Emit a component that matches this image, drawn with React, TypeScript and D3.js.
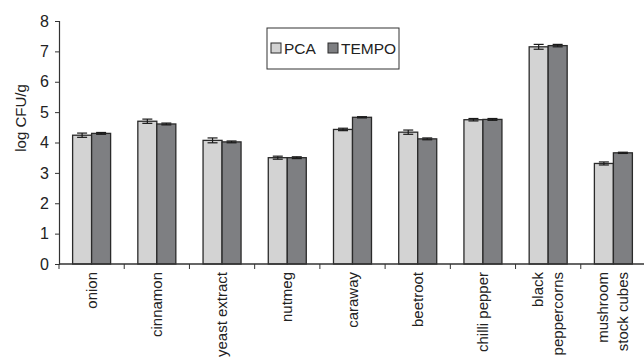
import React, { useEffect, useRef } from 'react';
import * as d3 from 'd3';

const categories = ['onion', 'cinnamon', 'yeast extract', 'nutmeg', 'caraway', 'beetroot', 'chilli pepper', 'black|peppercorns', 'mushroom|stock cubes'];
const seriesNames = ['PCA', 'TEMPO'];
const pcaValues = [4.24, 4.7, 4.07, 3.5, 4.43, 4.34, 4.75, 7.15, 3.31];
const tempoValues = [4.3, 4.61, 4.02, 3.5, 4.83, 4.12, 4.76, 7.19, 3.66];
const pcaErrors = [0.07, 0.07, 0.08, 0.05, 0.04, 0.07, 0.04, 0.08, 0.05];
const tempoErrors = [0.03, 0.03, 0.03, 0.03, 0.02, 0.03, 0.03, 0.04, 0.02];
const yTicks = [0, 1, 2, 3, 4, 5, 6, 7, 8];

const colors = ['#d3d3d3', '#7e7f82'];
const FONT = '"Liberation Sans", Arial, sans-serif';

const App = () => {
    const ref = useRef<SVGSVGElement>(null);

    useEffect(() => {
        const svg = d3.select(ref.current);
        svg.selectAll('*').remove();

        const left = 59, right = 646, top = 21, bottom = 264;

        const x = d3.scaleBand().domain(categories).range([left, right]).paddingInner(0).paddingOuter(0);
        const xs = d3.scaleBand().domain(seriesNames).range([0, 38]);
        const y = d3.scaleLinear().domain([0, 8]).range([bottom, top]);

        const rows = categories.map((c, i) => ({
            c,
            vals: [
                { s: 'PCA', v: pcaValues[i], e: pcaErrors[i] },
                { s: 'TEMPO', v: tempoValues[i], e: tempoErrors[i] },
            ],
        }));

        const groups = svg.append('g').selectAll('g')
            .data(rows)
            .enter().append('g')
            .attr('transform', d => `translate(${x(d.c)! + x.bandwidth() / 2 - 19},0)`);

        groups.selectAll('rect')
            .data(d => d.vals)
            .enter().append('rect')
            .attr('x', d => xs(d.s)!)
            .attr('y', d => y(d.v))
            .attr('width', xs.bandwidth())
            .attr('height', d => y(0) - y(d.v))
            .attr('fill', (d, i) => colors[i])
            .attr('stroke', '#2a2a2a')
            .attr('stroke-width', 1.3);

        // error bars
        const eb = groups.selectAll('g.err')
            .data(d => d.vals)
            .enter().append('g')
            .attr('class', 'err')
            .attr('stroke', '#1a1a1a')
            .attr('stroke-width', 1.2);
        eb.append('line')
            .attr('x1', d => xs(d.s)! + xs.bandwidth() / 2)
            .attr('x2', d => xs(d.s)! + xs.bandwidth() / 2)
            .attr('y1', d => y(d.v + d.e))
            .attr('y2', d => y(d.v - d.e));
        eb.append('line')
            .attr('x1', d => xs(d.s)! + xs.bandwidth() / 2 - 5)
            .attr('x2', d => xs(d.s)! + xs.bandwidth() / 2 + 5)
            .attr('y1', d => y(d.v + d.e))
            .attr('y2', d => y(d.v + d.e));
        eb.append('line')
            .attr('x1', d => xs(d.s)! + xs.bandwidth() / 2 - 5)
            .attr('x2', d => xs(d.s)! + xs.bandwidth() / 2 + 5)
            .attr('y1', d => y(d.v - d.e))
            .attr('y2', d => y(d.v - d.e));

        // y axis
        const yAxis = svg.append('g')
            .attr('transform', `translate(${left},0)`)
            .call(d3.axisLeft(y).tickValues(yTicks).tickSize(4).tickPadding(6));
        yAxis.select('.domain').attr('stroke', '#333').attr('stroke-width', 1.2);
        yAxis.selectAll('.tick line').attr('stroke', '#333');
        yAxis.selectAll('text').attr('font-family', FONT).attr('font-size', 16).attr('fill', '#222');

        // x axis
        svg.append('line')
            .attr('x1', left).attr('x2', right)
            .attr('y1', bottom).attr('y2', bottom)
            .attr('stroke', '#333').attr('stroke-width', 1.3);
        svg.append('g').selectAll('line')
            .data(categories)
            .enter().append('line')
            .attr('x1', d => x(d)!)
            .attr('x2', d => x(d)!)
            .attr('y1', bottom)
            .attr('y2', bottom + 5)
            .attr('stroke', '#333');

        const labels = svg.append('g').selectAll('text')
            .data(categories)
            .enter().append('text')
            .attr('transform', d => `translate(${x(d)! + x.bandwidth() / 2},272) rotate(-90)`)
            .attr('text-anchor', 'end')
            .attr('font-family', FONT)
            .attr('font-size', 15)
            .attr('fill', '#222');
        labels.each(function (d) {
            const parts = d.split('|');
            const t = d3.select(this);
            parts.forEach((p, i) => {
                t.append('tspan')
                    .attr('x', 0)
                    .attr('y', (i - (parts.length - 1) / 2) * 20 + 5)
                    .text(p);
            });
        });

        // y label
        svg.append('text')
            .attr('transform', 'translate(26,118) rotate(-90)')
            .attr('text-anchor', 'middle')
            .attr('font-family', FONT)
            .attr('font-size', 15)
            .attr('fill', '#222')
            .text('log CFU/g');

        // legend
        const legend = svg.append('g');
        legend.append('rect')
            .attr('x', 267).attr('y', 28)
            .attr('width', 132).attr('height', 41)
            .attr('fill', 'white')
            .attr('stroke', '#333')
            .attr('stroke-width', 1);
        const items = legend.selectAll('g.item')
            .data(seriesNames)
            .enter().append('g')
            .attr('class', 'item')
            .attr('transform', (d, i) => `translate(${271 + i * 57},43)`);
        items.append('rect')
            .attr('width', 10).attr('height', 10)
            .attr('fill', (d, i) => colors[i])
            .attr('stroke', '#2a2a2a')
            .attr('stroke-width', 1);
        items.append('text')
            .attr('x', 13)
            .attr('y', 11)
            .attr('font-family', FONT)
            .attr('font-size', 15.5)
            .attr('fill', '#222')
            .text(d => d);
    }, []);

    return (
        <svg ref={ref} width={644} height={361} style={{ position: 'absolute', left: 0, top: 0, background: 'white' }} />
    );
};

export default App;
